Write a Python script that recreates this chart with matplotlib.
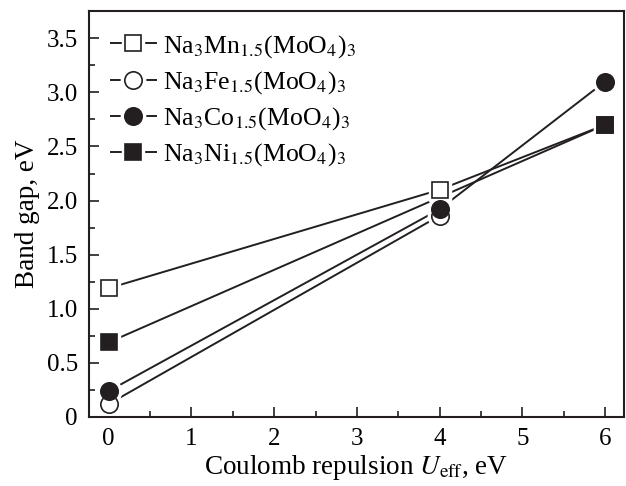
import matplotlib
matplotlib.use('Agg')
import matplotlib.pyplot as plt
from matplotlib.legend_handler import HandlerTuple
from matplotlib.ticker import MultipleLocator, FuncFormatter

plt.rcParams['font.family'] = 'Liberation Serif'
plt.rcParams['mathtext.fontset'] = 'stix'

# data
mn_x = [0, 4, 6]
mn_y = [1.19, 2.10, 2.70]
fe_x = [0, 4]
fe_y = [0.12, 1.86]
co_x = [0, 4, 6]
co_y = [0.24, 1.92, 3.10]
ni_x = [0, 6]
ni_y = [0.69, 2.70]

labels = [r'Na$_3$Mn$_{1.5}$(MoO$_4$)$_3$',
          r'Na$_3$Fe$_{1.5}$(MoO$_4$)$_3$',
          r'Na$_3$Co$_{1.5}$(MoO$_4$)$_3$',
          r'Na$_3$Ni$_{1.5}$(MoO$_4$)$_3$']

series = [(mn_x, mn_y, 's', 'white'),
          (fe_x, fe_y, 'o', 'white'),
          (co_x, co_y, 'o', '#231f20'),
          (ni_x, ni_y, 's', '#231f20')]

fig = plt.figure(figsize=(6.26, 4.86), dpi=100)
ax = fig.add_axes([0.142, 0.142, 0.855, 0.835])

handles = []
for i, (x, y, m, fc) in enumerate(series):
    ms = 12.5 if m == 'o' else 11
    ln, = ax.plot(x, y, color='#231f20', lw=1.4, zorder=1)
    # white halo leaves a small gap between line and marker
    halo, = ax.plot(x, y, ls='none', marker=m, ms=ms + 5, mfc='white',
                    mec='white', zorder=2)
    mk, = ax.plot(x, y, ls='none', marker=m, ms=ms, mfc=fc,
                  mec='#231f20', mew=1.2, zorder=3 + i)
    handles.append((ln, halo, mk))

ax.legend(handles, labels, handler_map={tuple: HandlerTuple(ndivide=1)},
          loc='upper left', frameon=False,
          fontsize=18.5, handlelength=1.75, handletextpad=0.3,
          labelspacing=0.36, borderaxespad=0.5, borderpad=0.35)

ax.set_xlim(-0.24, 6.23)
ax.set_ylim(0, 3.75)
ax.xaxis.set_major_locator(MultipleLocator(1))
ax.xaxis.set_minor_locator(MultipleLocator(0.5))
ax.yaxis.set_major_locator(MultipleLocator(0.5))
ax.yaxis.set_minor_locator(MultipleLocator(0.25))
ax.yaxis.set_major_formatter(FuncFormatter(lambda v, p: '0' if v == 0 else f'{v:.1f}'))
ax.tick_params(which='both', direction='in', labelsize=18, width=1.2, color='#231f20')
ax.tick_params(which='major', length=7)
ax.tick_params(which='minor', length=4)
ax.tick_params(axis='x', pad=8)
ax.tick_params(axis='y', pad=8)
for s in ax.spines.values():
    s.set_linewidth(1.5)
    s.set_color('#231f20')

ax.set_xlabel(r'Coulomb repulsion $U_{\rm eff}$, eV', fontsize=19.5, labelpad=2)
ax.set_ylabel('Band gap, eV', fontsize=19.5, labelpad=5)

fig.savefig('out.png', dpi=100)
